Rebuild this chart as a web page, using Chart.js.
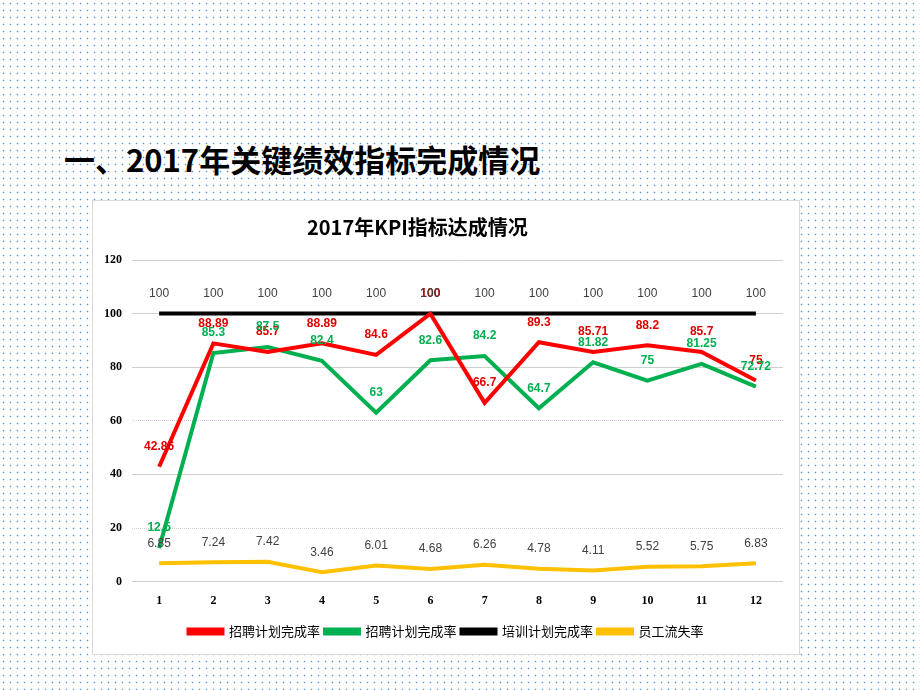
<!DOCTYPE html>
<html>
<head>
<meta charset="utf-8">
<script src="https://cdn.jsdelivr.net/npm/chart.js@4"></script>
<style>
  html,body{margin:0;padding:0;}
  body{
    width:920px;height:690px;position:relative;overflow:hidden;background:#fff;
    background-image:radial-gradient(circle at 3.5px 3.5px,#5b9bd5 0.7px,transparent 1.1px);
    background-size:7px 7px;
  }
  h1{
    position:absolute;left:64px;top:136px;margin:0;
    font:bold 31px "Noto Sans CJK SC","Noto Sans",sans-serif;color:#000;
  }
  .box{
    position:absolute;left:92px;top:200px;width:706px;height:453px;
    background:#fff;border:1px solid #d9d9d9;
  }
  .ttl{
    position:absolute;left:214px;top:11px;margin:0;
    font:bold 20px "Noto Sans CJK SC",sans-serif;color:#000;white-space:nowrap;
  }
</style>
</head>
<body>
<h1>一、2017年关键绩效指标完成情况</h1>
<div class="box"><canvas id="c"></canvas><div class="ttl">2017年KPI指标达成情况</div></div>
<script>
/* ---------- data ---------- */
const months   = ['1','2','3','4','5','6','7','8','9','10','11','12'];
const zhaopinA = [42.86,88.89,85.7,88.89,84.6,100,66.7,89.3,85.71,88.2,85.7,75];
const zhaopinB = [12.5,85.3,87.5,82.4,63,82.6,84.2,64.7,81.82,75,81.25,72.72];
const peixun   = [100,100,100,100,100,100,100,100,100,100,100,100];
const liushi   = [6.85,7.24,7.42,3.46,6.01,4.68,6.26,4.78,4.11,5.52,5.75,6.83];
const yTicks   = [0,20,40,60,80,100,120];

const labelColors = ['#e00000','#00b050','#404040','#404040'];

/* ---------- data labels ---------- */
const valueLabels = {
  id:'valueLabels',
  afterDatasetsDraw(chart){
    const ctx=chart.ctx;
    chart.data.datasets.forEach((ds,i)=>{
      const meta=chart.getDatasetMeta(i);
      ctx.save();
      ctx.fillStyle=labelColors[i];
      ctx.font=(i<2?'bold ':'')+'12px "Liberation Sans", sans-serif';
      ctx.textAlign='center';ctx.textBaseline='middle';
      meta.data.forEach((p,j)=>ctx.fillText(String(ds.data[j]),p.x,p.y-20));
      ctx.restore();
    });
  }
};

const line=(label,data,color)=>({
  label,data,borderColor:color,backgroundColor:color,borderWidth:4,
  pointRadius:0,tension:0,fill:false
});

new Chart(document.getElementById('c'),{
  type:'line',
  data:{labels:months,datasets:[
    line('招聘计划完成率',zhaopinA,'#ff0000'),
    line('招聘计划完成率',zhaopinB,'#00b050'),
    line('培训计划完成率',peixun,'#000000'),
    line('员工流失率',liushi,'#ffc000')
  ]},
  options:{
    responsive:true,maintainAspectRatio:false,animation:false,
    layout:{padding:{left:1,right:1,top:59,bottom:6}},
    plugins:{
      title:{display:false},
      legend:{position:'bottom',
        labels:{boxWidth:34,boxHeight:4,padding:5,color:'#000',
          font:{size:13,family:'"Noto Sans CJK SC", sans-serif'}}},
      tooltip:{enabled:false}
    },
    scales:{
      x:{offset:true,grid:{display:false},border:{display:false},
        afterFit:s=>{s.height+=8;},
        ticks:{color:'#000',font:{size:12,weight:'bold',family:'"Liberation Serif", serif'},padding:4}},
      y:{min:0,max:120,afterBuildTicks:a=>{a.ticks=yTicks.map(v=>({value:v}));},
        grid:{color:c=>c.tick&&c.tick.value===60?'#e8c0e8':'#d0d0d0',lineWidth:1,drawTicks:false},
        border:{display:false,dash:c=>(c.tick&&(c.tick.value===60||c.tick.value===20))?[1,1]:[]},
        ticks:{color:'#000',font:{size:12,weight:'bold',family:'"Liberation Serif", serif'},padding:10}},
      yr:{position:'right',min:0,max:120,grid:{display:false},border:{display:false},
        ticks:{display:false},afterFit:s=>{s.width=15;}}
    }
  },
  plugins:[valueLabels]
});
</script>
</body>
</html>
